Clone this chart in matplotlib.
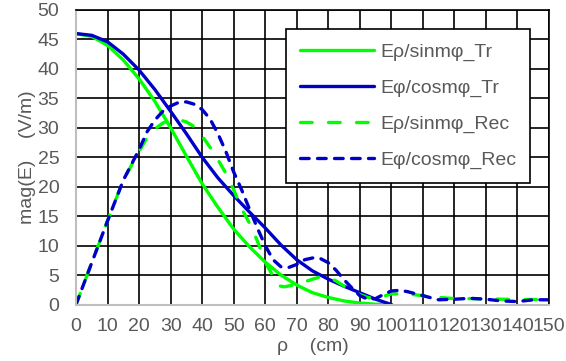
import matplotlib.pyplot as plt

plt.rcParams['font.family'] = ['Liberation Sans', 'DejaVu Sans']

# values
x_tr = [0, 5, 10, 15, 20, 25, 30, 35, 40, 45, 50, 55, 60, 65, 70, 75, 80, 85, 90, 95, 100]
rho_tr = [46, 45.5, 44, 41.5, 38.3, 34.5, 30, 25.2, 20.5, 16.5, 12.8, 9.8, 7.2, 5.0, 3.3,
          2.0, 1.2, 0.6, 0.25, 0.05, 0]
phi_tr = [46, 45.7, 44.6, 42.5, 39.8, 36.5, 32.8, 29, 25, 21.5, 18.5, 15.7, 13, 10.1, 7.6,
          5.7, 4.3, 3.1, 2.0, 0.9, 0]

x_rec_phi = [0, 5, 10, 15, 20, 22.5, 25, 27.5, 30, 32.5, 35, 37.5, 40, 42.5, 45, 47.5, 50,
             52.5, 55, 57.5, 60, 62.5, 65, 67.5, 70, 72.5, 75, 77.5, 80, 82.5, 85, 87.5, 90,
             92.5, 95, 97.5, 100, 102.5, 105, 110, 115, 120, 125, 130, 135, 140, 145, 150]
phi_rec = [0, 7.1, 14.2, 21.1, 26.3, 29.3, 31.3, 32.8, 33.7, 34.3, 34.4, 34.0, 33.1, 31.5,
           29, 26, 22.5, 19.5, 16.2, 13, 10, 7.6, 6.4, 6.3, 6.8, 7.6, 7.9, 7.8, 7.1, 5.8,
           4.2, 2.8, 1.5, 0.9, 1.0, 1.7, 2.3, 2.4, 2.2, 1.5, 0.8, 0.9, 1.05, 0.9, 0.6, 0.5,
           0.8, 0.8]

x_rec_rho = [0, 5, 10, 15, 20, 22.5, 25, 27.5, 30, 32.5, 35, 37.5, 40, 42.5, 45, 47.5, 50,
             52.5, 55, 57.5, 60, 62.5, 64, 66, 70, 75, 77.5, 80, 82.5, 85, 87.5, 90, 92.5,
             95, 97.5, 100, 105, 110, 115, 120, 125, 130, 135, 140, 145, 150]
rho_rec = [0, 7.1, 14.2, 21.1, 26, 28.3, 29.8, 30.8, 31.3, 31.4, 31, 30.2, 28.6, 26.7, 24.6,
           22.3, 19.5, 16.3, 13.8, 10.8, 7.2, 4.8, 3.2, 3.0, 3.4, 4.3, 4.7, 4.6, 4.0, 3.1,
           2.3, 1.7, 1.2, 1.0, 1.4, 1.8, 1.8, 1.5, 1.2, 1.0, 1.0, 0.95, 0.9, 0.85, 0.85, 0.8]

green = '#00FF00'
blue = '#0000C8'
txt = '#595959'
lw = 2.4
fs = 14

fig = plt.figure(figsize=(5.66, 3.61), dpi=100)
ax = fig.add_axes([0.1343, 0.1565, 0.8357, 0.8158])

ax.plot(x_tr, rho_tr, color=green, lw=lw, label='Eρ/sinmφ_Tr', solid_capstyle='round')
ax.plot(x_tr, phi_tr, color=blue, lw=lw, label='Eφ/cosmφ_Tr', solid_capstyle='round')
ax.plot(x_rec_rho, rho_rec, color=green, lw=lw, dashes=(3.5, 4.9), dash_capstyle='round',
        label='Eρ/sinmφ_Rec')
ax.plot(x_rec_phi, phi_rec, color=blue, lw=lw, dashes=(2.6, 2.5), dash_capstyle='round',
        label='Eφ/cosmφ_Rec')

ax.set_xlim(0, 150)
ax.set_ylim(0, 50)
ax.set_xticks(range(0, 151, 10))
ax.set_yticks(range(0, 51, 5))
ax.grid(True, color='black', lw=1.2)
ax.set_axisbelow(True)
ax.tick_params(length=0, labelsize=fs, labelcolor=txt)
ax.tick_params(axis='y', pad=12)
ax.tick_params(axis='x', pad=10)
for s in ['left', 'bottom']:
    ax.spines[s].set_color('#BFBFBF')
    ax.spines[s].set_linewidth(1.5)
for s in ['top', 'right']:
    ax.spines[s].set_color('black')
    ax.spines[s].set_linewidth(1.2)

ax.set_xlabel('ρ    (cm)', fontsize=fs, color=txt, labelpad=2)
ax.set_ylabel('mag(E)    (V/m)', fontsize=fs, color=txt, labelpad=1)

leg = ax.legend(loc='upper left', bbox_to_anchor=(0.444, 0.935), fontsize=fs,
                handlelength=3.8, handletextpad=0.35, borderpad=0.7, labelspacing=0.95,
                fancybox=False, framealpha=1, edgecolor='black', borderaxespad=0)
leg.get_frame().set_linewidth(1.2)
for t in leg.get_texts():
    t.set_color(txt)

fig.savefig('out.png', dpi=100)
